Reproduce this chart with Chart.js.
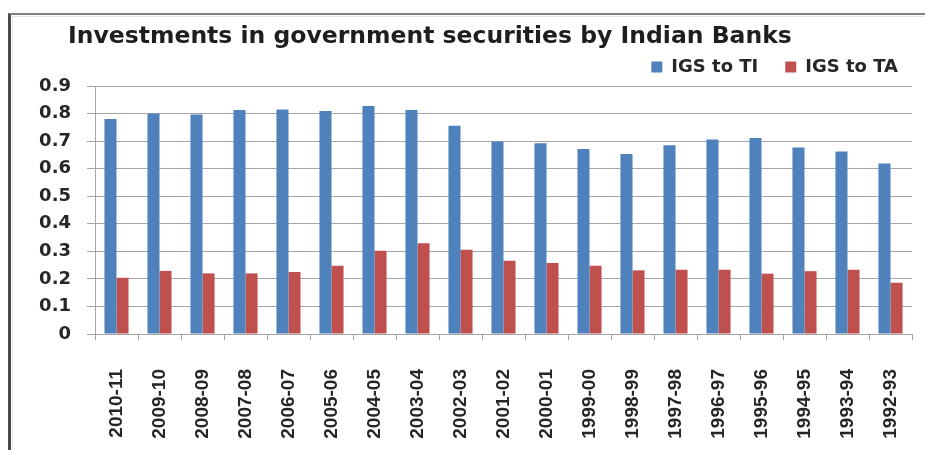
<!DOCTYPE html>
<html>
<head>
<meta charset="utf-8">
<script src="https://cdn.jsdelivr.net/npm/chart.js@4/dist/chart.umd.min.js"></script>
<style>
  html, body { margin: 0; padding: 0; background: #ffffff; }
  #wrap { position: relative; width: 925px; height: 450px; overflow: hidden; background: #fff; }
  #frame { position: absolute; left: 8px; top: 13px; width: 930px; height: 450px;
           border-left: 3px solid #4a4a4a; border-top: 2px solid #808080; box-sizing: border-box; }
  #inner { position: absolute; left: 12px; top: 16px; width: 930px; height: 450px;
           border-left: 1px solid #e6e6e6; border-top: 1px solid #e6e6e6; box-sizing: border-box; }
  canvas { position: absolute; left: 0; top: 0; }
</style>
</head>
<body>
<div id="wrap">
  <div id="frame"></div>
  <div id="inner"></div>
  <canvas id="c" width="925" height="450"></canvas>
</div>
<script>
const chartTitle = "Investments in government securities by Indian Banks";
const categories = ["2010-11","2009-10","2008-09","2007-08","2006-07","2005-06","2004-05","2003-04","2002-03","2001-02","2000-01","1999-00","1998-99","1997-98","1996-97","1995-96","1994-95","1993-94","1992-93"];
const seriesNames = ["IGS to TI", "IGS to TA"];
const igsToTI = [0.78, 0.80, 0.797, 0.813, 0.815, 0.809, 0.827, 0.813, 0.756, 0.699, 0.692, 0.671, 0.653, 0.685, 0.706, 0.711, 0.677, 0.662, 0.619];
const igsToTA = [0.204, 0.229, 0.220, 0.220, 0.225, 0.248, 0.302, 0.329, 0.306, 0.266, 0.258, 0.248, 0.231, 0.233, 0.233, 0.219, 0.228, 0.233, 0.186];
const yTicks = [0, 0.1, 0.2, 0.3, 0.4, 0.5, 0.6, 0.7, 0.8, 0.9];

const gridColor = '#a6a6a6';
const textColor = '#262626';

// shift the title block to start where the reference title starts
const titleShift = {
  id: 'titleShift',
  afterLayout(chart) {
    const t = chart.titleBlock;
    if (t) { t.left += 68; }
  }
};

new Chart(document.getElementById('c'), {
  type: 'bar',
  data: {
    labels: categories,
    datasets: [
      { label: seriesNames[0], data: igsToTI, backgroundColor: '#4F81BD', borderWidth: 0,
        categoryPercentage: 0.56, barPercentage: 1.0 },
      { label: seriesNames[1], data: igsToTA, backgroundColor: '#C0504D', borderWidth: 0,
        categoryPercentage: 0.56, barPercentage: 1.0 }
    ]
  },
  plugins: [titleShift],
  options: {
    responsive: false,
    animation: false,
    devicePixelRatio: 1,
    layout: { padding: { left: 0, right: 0, top: 0, bottom: 0 } },
    plugins: {
      title: {
        display: true,
        text: chartTitle,
        align: 'start',
        color: '#1e1e1e',
        font: { family: 'DejaVu Sans', weight: 'bold', size: 23.5, lineHeight: 1.2 },
        padding: { top: 22.5, bottom: -19.7 }
      },
      legend: {
        display: true,
        position: 'top',
        align: 'end',
        labels: {
          color: textColor,
          font: { family: 'DejaVu Sans', weight: 'bold', size: 18 },
          boxWidth: 11,
          boxHeight: 11,
          padding: 27
        }
      },
      tooltip: { enabled: false }
    },
    scales: {
      x: {
        offset: true,
        grid: { display: true, drawOnChartArea: false, drawTicks: true, tickLength: 6, offset: true,
                color: gridColor, lineWidth: 1 },
        border: { display: true, color: gridColor, width: 1 },
        ticks: {
          autoSkip: false, minRotation: 90, maxRotation: 90, padding: 29, color: textColor,
          font: { family: 'Liberation Sans', weight: 'bold', size: 19 }
        },
        afterFit: (s) => { s.height = 116; s.paddingLeft = 0; s.paddingRight = 13; }
      },
      y: {
        min: 0, max: 0.9,
        afterBuildTicks: (s) => { s.ticks = yTicks.map(v => ({ value: v })); },
        grid: { display: true, drawOnChartArea: true, drawTicks: true, tickLength: 8,
                color: gridColor, lineWidth: 1 },
        border: { display: true, color: gridColor, width: 1 },
        ticks: {
          padding: 16, color: textColor,
          font: { family: 'DejaVu Sans', weight: 'bold', size: 18 },
          callback: (v) => String(Math.round(v * 10) / 10)
        },
        afterFit: (s) => { s.width = 95; s.paddingTop = 0; s.paddingBottom = 0; }
      }
    }
  }
});
</script>
</body>
</html>
